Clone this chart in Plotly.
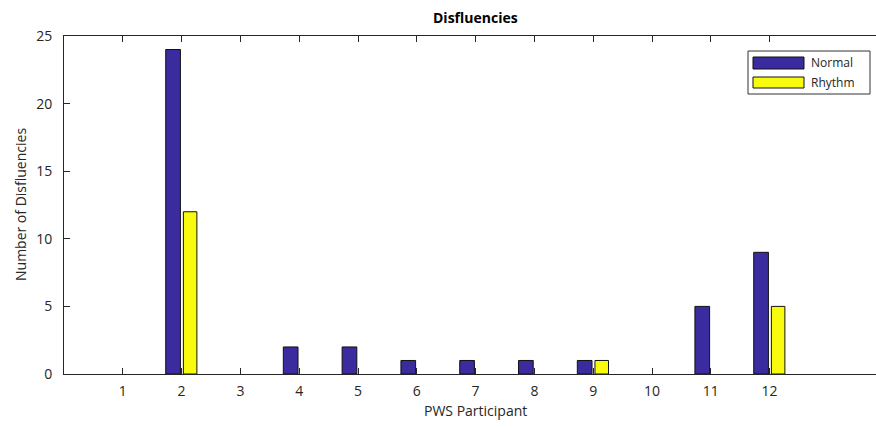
import plotly.graph_objects as go

participants = [1, 2, 3, 4, 5, 6, 7, 8, 9, 10, 11, 12]
normal = [0, 24, 0, 2, 2, 1, 1, 1, 1, 0, 5, 9]
rhythm = [0, 12, 0, 0, 0, 0, 0, 0, 1, 0, 0, 5]
y_ticks = [0, 5, 10, 15, 20, 25]

BLUE = "#3A2B9E"
YELLOW = "#F9FB0E"
W, H = 876, 428
L, T, B = 64, 36, 54  # plot margins in px
R = 0
FONT = "Open Sans"


def hide_zero(vals):
    # zero-height bars are not drawn (avoid a flat outline on the axis)
    return [v if v != 0 else None for v in vals]


fig = go.Figure()
fig.add_trace(go.Bar(x=participants, y=hide_zero(normal), name="Normal", width=0.25, offset=-0.27,
                     marker=dict(color=BLUE, line=dict(color="#111111", width=1))))
fig.add_trace(go.Bar(x=participants, y=hide_zero(rhythm), name="Rhythm", width=0.23, offset=0.03,
                     marker=dict(color=YELLOW, line=dict(color="#111111", width=1))))

pw = W - L - R
ph = H - T - B


def px(xp):
    return (xp - L) / pw


def py(yp):
    return (H - B - yp) / ph


shapes = []
annotations = []
# legend box
shapes.append(dict(type="rect", xref="paper", yref="paper", x0=px(748), x1=px(870), y0=py(94), y1=py(51),
                   line=dict(color="#333333", width=1), fillcolor="white", layer="above"))
for name, col, y0, y1 in [("Normal", BLUE, 57, 69), ("Rhythm", YELLOW, 77, 88)]:
    shapes.append(dict(type="rect", xref="paper", yref="paper", x0=px(753), x1=px(804), y0=py(y1), y1=py(y0),
                       line=dict(color="#111111", width=1), fillcolor=col, layer="above"))
    annotations.append(dict(text=name, xref="paper", yref="paper", x=px(809), y=py((y0 + y1) / 2),
                            xanchor="left", yanchor="middle", showarrow=False,
                            font=dict(family=FONT, size=12, color="#262626")))

# title and axis labels centred on the full axes (which extend past the canvas)
axis_center = (L + 887) / 2
annotations.append(dict(text="<b>Disfluencies</b>", xref="paper", yref="paper", x=px(axis_center), y=py(18),
                        xanchor="center", yanchor="middle", showarrow=False,
                        font=dict(family=FONT, size=14, color="#000000")))
annotations.append(dict(text="PWS Participant", xref="paper", yref="paper", x=px(axis_center), y=py(410),
                        xanchor="center", yanchor="middle", showarrow=False,
                        font=dict(family=FONT, size=14, color="#262626")))
annotations.append(dict(text="Number of Disfluencies", xref="paper", yref="paper", x=px(20), y=py(205),
                        xanchor="center", yanchor="middle", showarrow=False, textangle=-90,
                        font=dict(family=FONT, size=14, color="#262626")))

fig.update_layout(
    width=W, height=H,
    margin=dict(l=L, r=R, t=T, b=B, pad=0),
    paper_bgcolor="white", plot_bgcolor="white",
    showlegend=False,
    shapes=shapes, annotations=annotations,
    font=dict(family=FONT, size=14, color="#262626"),
    xaxis=dict(range=[0, (W - L) / 58.8], tickmode="array", tickvals=participants,
               ticktext=[str(p) for p in participants], ticks="inside", ticklen=6, tickwidth=1,
               tickcolor="#262626", showline=True, linecolor="#262626", linewidth=1, mirror="ticks",
               showgrid=False, zeroline=False, tickfont=dict(size=14), ticklabelstandoff=4),
    yaxis=dict(range=[0, 25], tickmode="array", tickvals=y_ticks, ticks="inside", ticklen=6, tickwidth=1,
               tickcolor="#262626", showline=True, linecolor="#262626", linewidth=1,
               showgrid=False, zeroline=False, tickfont=dict(size=14), ticklabelstandoff=8),
)

fig.write_html("out.html")
